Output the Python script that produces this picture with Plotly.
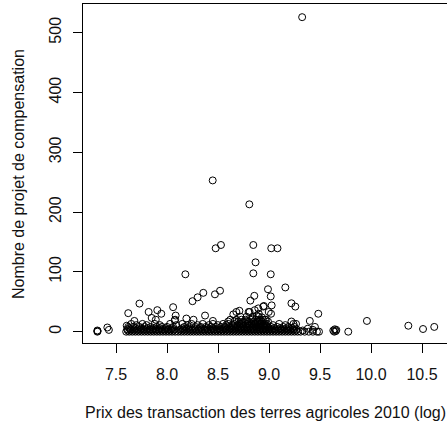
import plotly.graph_objects as go

# ---- data ----
# scattered points (x = log price, y = number of projects)
pts_x = [9.325, 8.448, 8.807, 8.477, 8.529, 8.846, 9.022, 9.083, 8.868, 8.846,
         8.18, 9.017, 9.16, 8.99, 9.017, 8.856, 8.817, 9.026, 8.944, 8.997,
         9.02, 9.22, 9.258, 9.483, 9.40, 9.45, 9.265, 9.22, 9.96, 10.366,
         10.51, 10.62, 9.777, 9.63, 9.645, 9.655, 9.64, 9.66,
         8.25, 8.30, 8.356, 8.47, 8.52,
         7.73, 7.62, 7.68, 7.82, 7.905, 7.944, 7.85, 7.89,
         8.06, 8.085, 8.08, 8.075, 8.19, 8.26, 8.373, 8.45,
         8.68, 8.71, 8.81, 8.86, 8.895, 8.95, 8.65, 8.80,
         7.317, 7.317, 7.32, 7.415, 7.43, 7.605,
         8.84, 8.88, 8.91, 8.93, 8.87, 8.96, 8.78, 8.90,
         9.38, 9.43, 9.33]
pts_y = [526, 253, 213, 139.5, 145, 145, 139.5, 139.5, 116, 97.6,
         96, 96, 74, 71, 59, 60, 52, 44, 42, 33,
         30, 47.5, 42, 30, 18, 8, 13, 17, 18, 10,
         4.5, 8, 0, 2, 4, 1, 0, 3,
         51, 57.5, 65, 62.5, 68.5,
         47, 31, 18, 33, 36, 30, 23, 20,
         41, 27, 20, 19, 22, 20, 27, 18,
         33, 35, 33, 36, 39, 43, 29, 33,
         0, 2, 1, 7, 3, 10,
         22, 27, 18, 24, 15, 20, 18, 30,
         5, 3, 2]

# dense band of small counts, listed by count level
band_y0 = 0
band_x0 = [7.60, 7.63, 7.66, 7.69, 7.72, 7.75, 7.78, 7.81, 7.84, 7.87, 7.90, 7.93,
           7.96, 7.99, 8.02, 8.05, 8.08, 8.11, 8.14, 8.17, 8.20, 8.23, 8.26, 8.29,
           8.32, 8.35, 8.38, 8.41, 8.44, 8.47, 8.50, 8.53, 8.56, 8.59, 8.62, 8.65,
           8.68, 8.71, 8.74, 8.77, 8.80, 8.83, 8.86, 8.89, 8.92, 8.95, 8.98, 9.01,
           9.04, 9.07, 9.10, 9.13, 9.16, 9.19, 9.22, 9.25, 9.28, 9.31, 9.35, 9.39,
           9.43, 9.47, 9.49]
band_y1 = 2
band_x1 = [7.615, 7.645, 7.675, 7.705, 7.735, 7.765, 7.795, 7.825, 7.855, 7.885,
           7.915, 7.945, 7.975, 8.005, 8.035, 8.065, 8.125, 8.155, 8.185, 8.215,
           8.245, 8.275, 8.305, 8.335, 8.365, 8.395, 8.425, 8.455, 8.485, 8.515,
           8.545, 8.575, 8.605, 8.635, 8.665, 8.695, 8.725, 8.755, 8.785, 8.815,
           8.845, 8.875, 8.905, 8.935, 8.965, 8.995, 9.025, 9.055, 9.085, 9.115,
           9.145, 9.175, 9.205, 9.235, 9.265]
band_y2 = 4
band_x2 = [7.61, 7.64, 7.68, 7.71, 7.74, 7.77, 7.80, 7.83, 7.86, 7.89, 7.92, 7.95,
           7.98, 8.01, 8.04, 8.07, 8.13, 8.16, 8.19, 8.22, 8.25, 8.28, 8.31, 8.34,
           8.37, 8.40, 8.43, 8.46, 8.49, 8.52, 8.55, 8.58, 8.61, 8.64, 8.67, 8.70,
           8.73, 8.76, 8.79, 8.82, 8.85, 8.88, 8.91, 8.94, 8.97, 9.00, 9.03, 9.06,
           9.09, 9.12, 9.15, 9.18, 9.21, 9.24, 9.27]
band_y3 = 6
band_x3 = [7.63, 7.69, 7.75, 7.81, 7.87, 7.93, 7.99, 8.05, 8.15, 8.21, 8.27, 8.33,
           8.39, 8.45, 8.51, 8.57, 8.62, 8.67, 8.72, 8.76, 8.80, 8.84, 8.88, 8.92,
           8.96, 9.00, 9.05, 9.11, 9.17, 9.23]
band_y4 = 8
band_x4 = [7.62, 7.67, 7.73, 7.78, 7.84, 7.90, 7.95, 8.00, 8.06, 8.17, 8.22, 8.28,
           8.33, 8.38, 8.43, 8.48, 8.53, 8.57, 8.61, 8.65, 8.69, 8.72, 8.75, 8.78,
           8.81, 8.84, 8.87, 8.90, 8.93, 8.96, 8.99, 9.02, 9.08, 9.14, 9.19, 9.25]
band_y5 = 11
band_x5 = [7.70, 7.80, 7.93, 8.09, 8.20, 8.30, 8.41, 8.50, 8.58, 8.64, 8.69, 8.73,
           8.77, 8.81, 8.85, 8.88, 8.91, 8.94, 8.97, 9.04, 9.16]
band_y6 = 13
band_x6 = [7.65, 7.76, 7.88, 8.03, 8.15, 8.24, 8.35, 8.45, 8.55, 8.60, 8.66, 8.71,
           8.74, 8.79, 8.83, 8.86, 8.89, 8.92, 8.95, 8.98, 9.10, 9.24]
band_y7 = 17
band_x7 = [8.60, 8.66, 8.70, 8.75, 8.80, 8.85, 8.89, 8.93, 8.99]
band_y8 = 20
band_x8 = [8.62, 8.68, 8.73, 8.77, 8.82, 8.87, 8.91, 8.94, 8.97]
band_y9 = 25
band_x9 = [8.72, 8.78, 8.84, 8.90]

x_ticks = [7.5, 8.0, 8.5, 9.0, 9.5, 10.0, 10.5]
x_tick_text = ["7.5", "8.0", "8.5", "9.0", "9.5", "10.0", "10.5"]
y_ticks = [0, 100, 200, 300, 400, 500]
y_tick_text = ["0", "100", "200", "300", "400", "500"]

x_title = "Prix des transaction des terres agricoles 2010 (log)"
y_title = "Nombre de projet de compensation"

# ---- build ----
all_x = list(pts_x)
all_y = list(pts_y)
for lvl, xs in [(band_y0, band_x0), (band_y1, band_x1), (band_y2, band_x2),
                (band_y3, band_x3), (band_y4, band_x4), (band_y5, band_x5),
                (band_y6, band_x6), (band_y7, band_x7), (band_y8, band_x8),
                (band_y9, band_x9)]:
    all_x += xs
    all_y += [lvl] * len(xs)

FONT = "Liberation Sans, Arial, sans-serif"

fig = go.Figure()
fig.add_trace(go.Scatter(
    x=all_x, y=all_y, mode="markers",
    marker=dict(symbol="circle-open", size=7, color="black",
                line=dict(width=1, color="black")),
    hoverinfo="x+y", showlegend=False,
))

fig.update_layout(
    width=447, height=430,
    margin=dict(l=83, r=0, t=4, b=87, pad=0),
    paper_bgcolor="white", plot_bgcolor="white",
    font=dict(family=FONT, size=16, color="black"),
    xaxis=dict(range=[7.1765, 10.745], tickvals=x_ticks, ticktext=x_tick_text,
               showgrid=False, zeroline=False, showline=True, mirror=True,
               linecolor="black", linewidth=1, ticks="outside", ticklen=9,
               tickwidth=1, tickcolor="black", ticklabelstandoff=8,
               tickfont=dict(family=FONT, size=16, color="#111")),
    yaxis=dict(range=[-18.9, 548.0], tickvals=y_ticks, ticktext=y_tick_text,
               showgrid=False, zeroline=False, showline=True, mirror=False,
               linecolor="black", linewidth=1, ticks="outside", ticklen=9,
               tickwidth=1, tickcolor="black", tickangle=-90,
               ticklabelstandoff=6,
               tickfont=dict(family=FONT, size=16, color="#111")),
    annotations=[
        dict(text=x_title, xref="paper", yref="paper", x=0.502, y=-0.205,
             xanchor="center", yanchor="middle", showarrow=False,
             font=dict(family=FONT, size=16, color="#111")),
        dict(text=y_title, xref="paper", yref="paper", x=-0.1772, y=0.5,
             xanchor="center", yanchor="middle", showarrow=False, textangle=-90,
             font=dict(family=FONT, size=16, color="#111")),
    ],
)

fig.write_html("out.html")
